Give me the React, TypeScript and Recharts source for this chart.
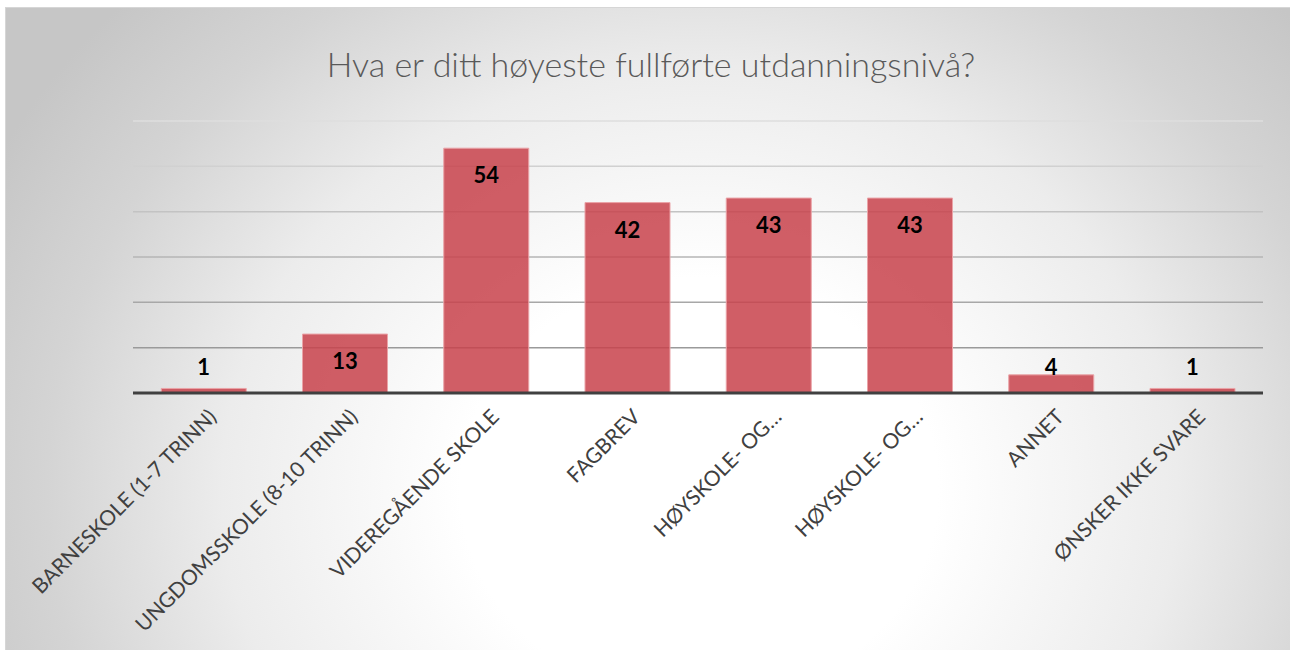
import React from "react";
import { BarChart, Bar, XAxis, YAxis, CartesianGrid, LabelList } from "recharts";

const categories = [
  "BARNESKOLE (1-7 TRINN)",
  "UNGDOMSSKOLE (8-10 TRINN)",
  "VIDEREGÅENDE SKOLE",
  "FAGBREV",
  "HØYSKOLE- OG…",
  "HØYSKOLE- OG…",
  "ANNET",
  "ØNSKER IKKE SVARE",
];
const values = [1, 13, 54, 42, 43, 43, 4, 1];
const yTicks = [0, 10, 20, 30, 40, 50, 60];
const title = "Hva er ditt høyeste fullførte utdanningsnivå?";

const data = categories.map((c, i) => ({ name: c, value: values[i] }));

const W = 1285;
const H = 643;
const TOP = 113;
const BOTTOM_AXIS = 258;

const Tick = (props: any) => {
  const { x, y, payload } = props;
  const ax = x + 9;
  const ay = y + 12;
  return (
    <text
      x={ax}
      y={ay}
      textAnchor="end"
      dy="0.35em"
      transform={`rotate(-45, ${ax}, ${ay})`}
      fontFamily="Lato, sans-serif"
      fontSize={21}
      fill="#404040"
    >
      {payload.value}
    </text>
  );
};

const ValueLabel = (props: any) => {
  const { x, y, width, height, value } = props;
  const cx = x + width / 2;
  const cy = Math.min(y + 27, y + height - 26);
  return (
    <text
      x={cx}
      y={cy}
      dy="0.36em"
      textAnchor="middle"
      fontFamily="Lato, sans-serif"
      fontWeight={700}
      fontSize={22}
      fill="#000"
    >
      {value}
    </text>
  );
};

export default function App() {
  return (
    <div
      style={{
        position: "absolute",
        left: 5,
        top: 7,
        width: W,
        height: H,
        borderTop: "1px solid #d6d6d6",
        borderLeft: "1px solid #d6d6d6",
        boxSizing: "border-box",
        background:
          "radial-gradient(ellipse 62% 110% at 54% 75%, #ffffff 0%, #ffffff 30%, #ececec 60%, #d4d4d4 82%, #c6c6c6 100%)",
        overflow: "hidden",
      }}
    >
      <div
        style={{
          position: "absolute",
          left: 0,
          top: 36,
          width: 1290,
          textAlign: "center",
          fontFamily: "Lato, sans-serif",
          fontWeight: 300,
          fontSize: 34,
          color: "#595959",
          lineHeight: "40px",
        }}
      >
        {title}
      </div>
      <BarChart
        width={W}
        height={H}
        data={data}
        margin={{ top: TOP, right: 28, left: 127, bottom: 0 }}
        barCategoryGap="20%"
        style={{ position: "absolute", left: 0, top: 0 }}
      >
        <defs>
          <linearGradient id="gridGrad" x1="0" y1={TOP} x2="0" y2={H - BOTTOM_AXIS} gradientUnits="userSpaceOnUse">
            <stop offset="0%" stopColor="#dedede" />
            <stop offset="100%" stopColor="#8c8c8c" />
          </linearGradient>
        </defs>
        <CartesianGrid vertical={false} stroke="url(#gridGrad)" strokeWidth={1.5} />
        <YAxis hide width={0} domain={[0, 60]} ticks={yTicks} type="number" />
        <XAxis
          dataKey="name"
          height={BOTTOM_AXIS}
          interval={0}
          tickLine={false}
          axisLine={{ stroke: "#404040", strokeWidth: 3 }}
          tick={<Tick />}
        />
        <Bar
          dataKey="value"
          fill="#c8424b"
          fillOpacity={0.85}
          stroke="#eaa3a7"
          strokeWidth={1}
          isAnimationActive={false}
        >
          <LabelList dataKey="value" content={<ValueLabel />} />
        </Bar>
      </BarChart>
    </div>
  );
}
